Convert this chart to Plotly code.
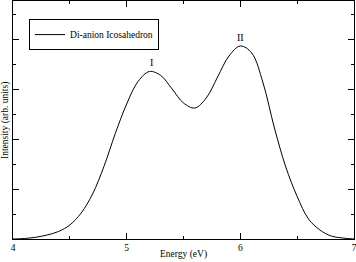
import plotly.graph_objects as go

energy = [4.0, 4.1, 4.2, 4.3, 4.4, 4.5, 4.6, 4.7, 4.8, 4.9, 5.0, 5.1, 5.2, 5.3, 5.4, 5.5,
          5.6, 5.7, 5.8, 5.9, 6.0, 6.1, 6.2, 6.3, 6.4, 6.5, 6.6, 6.7, 6.8, 6.9, 7.0]
intensity = [0.00, 0.01, 0.035, 0.08, 0.15, 0.28, 0.52, 0.90, 1.45, 2.11, 2.70, 3.15, 3.35,
             3.27, 3.00, 2.72, 2.62, 2.82, 3.24, 3.66, 3.86, 3.72, 3.12, 2.22, 1.44, 0.85,
             0.40, 0.18, 0.06, 0.02, 0.00]
series_name = "Di-anion Icosahedron"
peak_labels = ["I", "II"]
peak_x = [5.22, 6.0]
peak_y = [3.54, 4.04]
x_ticks = [4, 5, 6, 7]
x_title = "Energy (eV)"
y_title = "Intensity (arb. units)"

font = "Liberation Serif, Times New Roman, serif"

fig = go.Figure()
fig.add_trace(go.Scatter(x=energy, y=intensity, mode="lines", name=series_name,
                         line=dict(color="black", width=1, shape="spline", smoothing=1.0)))

for t, x, y in zip(peak_labels, peak_x, peak_y):
    fig.add_annotation(x=x, y=y, text=t, showarrow=False, xref="x", yref="y",
                       font=dict(size=10, color="black", family=font))

fig.add_annotation(x=0.5, y=-0.067, xref="paper", yref="paper", text=x_title,
                   showarrow=False, xanchor="center", yanchor="middle",
                   font=dict(size=9.5, color="black", family=font))
fig.add_annotation(x=-0.0235, y=0.5, xref="paper", yref="paper", text=y_title,
                   showarrow=False, xanchor="center", yanchor="middle", textangle=-90,
                   font=dict(size=9.5, color="black", family=font))

fig.update_layout(
    width=356, height=262,
    margin=dict(l=13, r=2, t=1, b=23, autoexpand=False),
    paper_bgcolor="white", plot_bgcolor="white",
    font=dict(family=font, size=9.5, color="black"),
    showlegend=True,
    legend=dict(x=0.047, y=0.924, xanchor="left", yanchor="top",
                bordercolor="black", borderwidth=1, bgcolor="white",
                font=dict(size=9.5, family=font), itemwidth=30,
                tracegroupgap=0),
)
fig.update_xaxes(range=[4, 7], tickvals=x_ticks, ticks="inside", ticklen=6, tickwidth=1,
                 tickcolor="black", showline=True, linecolor="black", linewidth=1,
                 mirror="allticks", showgrid=False, zeroline=False, automargin=False,
                 ticklabeloverflow="allow",
                 minor=dict(dtick=0.5, ticks="inside", ticklen=3, tickcolor="black", showgrid=False),
                 tickfont=dict(size=9.5))
fig.update_yaxes(range=[0, 4.76], dtick=1, ticks="inside", ticklen=6, tickwidth=1,
                 tickcolor="black", showline=True, linecolor="black", linewidth=1,
                 mirror="allticks", showgrid=False, zeroline=False, showticklabels=False,
                 automargin=False,
                 minor=dict(dtick=0.5, ticks="inside", ticklen=3, tickcolor="black", showgrid=False))

fig.write_html("out.html", config={"displayModeBar": False},
               post_script="document.body.style.margin='0';document.body.style.overflow='hidden';")
